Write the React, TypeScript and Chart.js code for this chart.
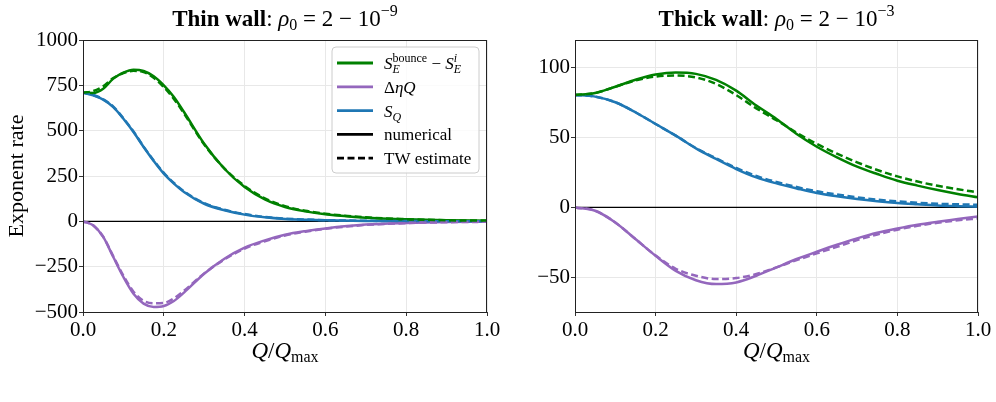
import React, { useEffect, useRef } from 'react';
import { Chart, registerables } from 'chart.js';

Chart.register(...registerables);

const SERIF = '"Liberation Serif", "DejaVu Serif", serif';
const GREEN = '#008000';
const PURPLE = '#9467bd';
const BLUE = '#1f77b4';

// ---- Thin wall panel (rho0 = 2 - 1e-9) ----
const thinQ = [0, 0.025, 0.05, 0.075, 0.1, 0.125, 0.15, 0.175, 0.2, 0.225, 0.25, 0.3, 0.35, 0.4, 0.45, 0.5, 0.55, 0.6, 0.7, 0.8, 0.9, 1.0];
const thinBounceNum = [709, 708, 731, 787, 820, 836, 829, 800, 750, 686, 603, 428, 290, 189, 121, 79, 55, 39, 20, 11, 5.5, 3.5];
const thinBounceTW = [709, 718, 745, 790, 818, 830, 823, 792, 740, 675, 595, 424, 292, 195, 127, 84, 58, 42, 22, 12, 6, 4];
const thinEtaNum = [0, -22, -86, -197, -307, -399, -454, -472, -467, -439, -393, -289, -206, -145, -105, -74, -54, -39, -18, -9, -4, -2];
const thinEtaTW = [0, -22, -85, -193, -300, -388, -438, -452, -450, -425, -383, -287, -210, -150, -110, -78, -57, -41, -20, -10, -5, -2.5];
const thinSQNum = [709, 695, 671, 630, 566, 493, 410, 333, 263, 208, 162, 97, 61, 37, 22, 13, 8.5, 5.5, 2.5, 1.2, 0.6, 0.3];
const thinSQTW = [709, 697, 673, 632, 568, 495, 412, 336, 267, 212, 166, 100, 64, 40, 24, 15, 10, 6.5, 3, 1.5, 0.8, 0.4];
const thinYTicks = [-500, -250, 0, 250, 500, 750, 1000];

// ---- Thick wall panel (rho0 = 2 - 1e-3) ----
const thickQ = [0, 0.05, 0.1, 0.15, 0.2, 0.25, 0.3, 0.35, 0.4, 0.45, 0.5, 0.55, 0.6, 0.65, 0.7, 0.75, 0.8, 0.85, 0.9, 0.95, 1.0];
const thickBounceNum = [80.6, 82, 86.5, 91.5, 95.2, 96.7, 95.7, 91.4, 83.7, 73.0, 63.4, 52.6, 43.5, 35.9, 29.2, 23.9, 19.1, 15.6, 12.4, 9.6, 7.2];
const thickBounceTW = [80.6, 82, 86.5, 91, 93.8, 94.5, 93.2, 88.5, 80.5, 71, 62.5, 53.5, 45.5, 38.5, 32.3, 26.8, 22.2, 18.5, 15.5, 13, 10.8];
const thickEtaNum = [0, -2.4, -10.8, -22.7, -34.7, -45.5, -52.2, -55, -53.8, -49, -43, -37, -31.8, -26.8, -22.2, -18.2, -15.1, -12.4, -10.3, -8.4, -6.5];
const thickEtaTW = [0, -2.4, -10.8, -22.7, -34.5, -44, -49, -51.4, -50.7, -47.8, -43, -37.8, -33, -28.3, -23.5, -19.4, -16, -13.2, -11, -9.3, -7.9];
const thickSQNum = [80.6, 79.4, 75.4, 68.2, 59.8, 51.4, 42.3, 34.7, 27.5, 21.5, 17.2, 13.6, 10.3, 8.0, 6.0, 4.4, 3.1, 2.2, 1.4, 0.9, 0.5];
const thickSQTW = [80.6, 79.4, 75.4, 68.2, 59.8, 51.4, 42.5, 35.2, 28.3, 22.5, 18.2, 14.6, 11.5, 9.2, 7.2, 5.6, 4.3, 3.3, 2.6, 2.2, 1.9];
const thickYTicks = [-50, 0, 50, 100];

const xTicks = [0, 0.2, 0.4, 0.6, 0.8, 1.0];

// ---- rich text helpers (italic math, sub/superscripts) ----
type Run = { t: string; w?: 'rm' | 'it' | 'bf'; s?: number; dy?: number };
type Piece = Run | { stack: Run[] };

function fontOf(r: Run, base: number) {
  const size = r.s ?? base;
  const style = r.w === 'it' ? 'italic ' : r.w === 'bf' ? 'bold ' : '';
  return `${style}${size}px ${SERIF}`;
}

function runWidth(ctx: CanvasRenderingContext2D, r: Run, base: number) {
  ctx.font = fontOf(r, base);
  return ctx.measureText(r.t).width;
}

function richWidth(ctx: CanvasRenderingContext2D, pieces: Piece[], base: number) {
  let w = 0;
  for (const p of pieces) {
    if ('stack' in p) w += Math.max(...p.stack.map((r) => runWidth(ctx, r, base)));
    else w += runWidth(ctx, p, base);
  }
  return w;
}

function drawRich(ctx: CanvasRenderingContext2D, pieces: Piece[], x: number, y: number, base: number, align: 'left' | 'center') {
  let cx = align === 'center' ? x - richWidth(ctx, pieces, base) / 2 : x;
  ctx.textAlign = 'left';
  ctx.textBaseline = 'alphabetic';
  ctx.fillStyle = '#000';
  const drawRun = (r: Run, px: number) => {
    ctx.font = fontOf(r, base);
    ctx.fillText(r.t, px, y + (r.dy ?? 0));
    return ctx.measureText(r.t).width;
  };
  for (const p of pieces) {
    if ('stack' in p) {
      let mw = 0;
      for (const r of p.stack) mw = Math.max(mw, drawRun(r, cx));
      cx += mw;
    } else {
      cx += drawRun(p, cx);
    }
  }
}

function titlePieces(kind: string, exp: string): Piece[] {
  return [
    { t: kind, w: 'bf' },
    { t: ': ', w: 'rm' },
    { t: 'ρ', w: 'it' },
    { t: '0', w: 'rm', s: 16, dy: 4 },
    { t: ' = 2 − 10', w: 'rm' },
    { t: exp, w: 'rm', s: 16, dy: -10 },
  ];
}

const xLabelPieces: Piece[] = [
  { t: 'Q', w: 'it' },
  { t: '/', w: 'rm' },
  { t: 'Q', w: 'it' },
  { t: 'max', w: 'rm', s: 16, dy: 4 },
];

const legendEntries: { color: string; dash: number[]; label: Piece[] }[] = [
  {
    color: GREEN,
    dash: [],
    label: [
      { t: 'S', w: 'it' },
      { stack: [{ t: 'bounce', w: 'rm', s: 12, dy: -7 }, { t: 'E', w: 'it', s: 12, dy: 4 }] },
      { t: ' − ', w: 'rm' },
      { t: 'S', w: 'it' },
      { stack: [{ t: 'i', w: 'it', s: 12, dy: -7 }, { t: 'E', w: 'it', s: 12, dy: 4 }] },
    ],
  },
  { color: PURPLE, dash: [], label: [{ t: 'Δ', w: 'rm' }, { t: 'ηQ', w: 'it' }] },
  { color: BLUE, dash: [], label: [{ t: 'S', w: 'it' }, { t: 'Q', w: 'it', s: 12, dy: 4 }] },
  { color: '#000', dash: [], label: [{ t: 'numerical', w: 'rm' }] },
  { color: '#000', dash: [7, 3.5], label: [{ t: 'TW estimate', w: 'rm' }] },
];

function fmtTick(v: number) {
  return v < 0 ? '−' + Math.abs(v) : String(v);
}

function makeDecor(title: Piece[], withYLabel: boolean, withLegend: boolean) {
  return {
    id: 'panelDecor',
    beforeDatasetsDraw(chart: any) {
      const { ctx, chartArea: a, scales } = chart;
      const y0 = scales.y.getPixelForValue(0);
      ctx.save();
      ctx.strokeStyle = '#000';
      ctx.lineWidth = 1.2;
      ctx.beginPath();
      ctx.moveTo(a.left, y0);
      ctx.lineTo(a.right, y0);
      ctx.stroke();
      ctx.restore();
    },
    afterDatasetsDraw(chart: any) {
      const { ctx, chartArea: a } = chart;
      ctx.save();
      ctx.strokeStyle = '#222';
      ctx.lineWidth = 1;
      ctx.strokeRect(a.left + 0.5, a.top + 0.5, a.right - a.left - 1, a.bottom - a.top);
      ctx.restore();
    },
    afterDraw(chart: any) {
      const { ctx, chartArea: a } = chart;
      const cx = (a.left + a.right) / 2;
      ctx.save();
      drawRich(ctx, title, cx, 26, 23, 'center');
      drawRich(ctx, xLabelPieces, cx, 358, 23, 'center');
      if (withYLabel) {
        ctx.save();
        ctx.translate(23, (a.top + a.bottom) / 2);
        ctx.rotate(-Math.PI / 2);
        drawRich(ctx, [{ t: 'Exponent rate', w: 'rm' }], 0, 0, 22, 'center');
        ctx.restore();
      }
      if (withLegend) {
        const bx = 332, by = 47, bw = 147, bh = 126, r = 4;
        ctx.beginPath();
        ctx.moveTo(bx + r, by);
        ctx.arcTo(bx + bw, by, bx + bw, by + bh, r);
        ctx.arcTo(bx + bw, by + bh, bx, by + bh, r);
        ctx.arcTo(bx, by + bh, bx, by, r);
        ctx.arcTo(bx, by, bx + bw, by, r);
        ctx.closePath();
        ctx.fillStyle = 'rgba(255,255,255,0.8)';
        ctx.fill();
        ctx.strokeStyle = '#cccccc';
        ctx.lineWidth = 1;
        ctx.stroke();
        legendEntries.forEach((e, i) => {
          const ry = 63 + i * 23.8;
          ctx.save();
          ctx.strokeStyle = e.color;
          ctx.lineWidth = 2.8;
          ctx.setLineDash(e.dash);
          ctx.beginPath();
          ctx.moveTo(337, ry);
          ctx.lineTo(373, ry);
          ctx.stroke();
          ctx.restore();
          drawRich(ctx, e.label, 384, ry + 6, 17, 'left');
        });
      }
      ctx.restore();
    },
  };
}

function buildConfig(opts: {
  q: number[];
  series: { vals: number[]; color: string; dashed: boolean }[];
  yMin: number;
  yMax: number;
  yTicks: number[];
  yAxisWidth: number;
  padRight: number;
  decor: any;
}) {
  const font = { family: SERIF, size: 21 };
  return {
    type: 'line' as const,
    data: {
      datasets: opts.series.map((s) => ({
        data: opts.q.map((x, i) => ({ x, y: s.vals[i] })),
        borderColor: s.color,
        borderWidth: 2.5,
        borderDash: s.dashed ? [7, 3.5] : [],
        borderCapStyle: 'butt',
        pointRadius: 0,
        fill: false,
        cubicInterpolationMode: 'monotone',
        order: s.dashed ? 0 : 1,
      })),
    },
    options: {
      responsive: false,
      animation: false,
      events: [],
      layout: { padding: { left: 0, top: 40, right: opts.padRight, bottom: 0 } },
      plugins: { legend: { display: false }, title: { display: false }, tooltip: { enabled: false } },
      scales: {
        x: {
          type: 'linear',
          min: 0,
          max: 1,
          afterBuildTicks: (axis: any) => {
            axis.ticks = xTicks.map((value) => ({ value }));
          },
          afterFit: (s: any) => {
            s.height = 90;
          },
          ticks: {
            font,
            color: '#000',
            padding: 2,
            maxRotation: 0,
            autoSkip: false,
            callback: (v: any) => Number(v).toFixed(1),
          },
          grid: { color: '#e8e8e8', lineWidth: 1, tickLength: 4, tickColor: '#333', drawTicks: true },
          border: { display: false },
        },
        y: {
          type: 'linear',
          min: opts.yMin,
          max: opts.yMax,
          afterBuildTicks: (axis: any) => {
            axis.ticks = opts.yTicks.map((value) => ({ value }));
          },
          afterFit: (s: any) => {
            s.width = opts.yAxisWidth;
          },
          ticks: {
            font,
            color: '#000',
            padding: 1,
            callback: (v: any) => fmtTick(Number(v)),
          },
          grid: { color: '#e8e8e8', lineWidth: 1, tickLength: 4, tickColor: '#333', drawTicks: true },
          border: { display: false },
        },
      },
    },
    plugins: [opts.decor],
  };
}

function Panel(props: { left: number; width: number; config: any }) {
  const ref = useRef<HTMLCanvasElement>(null);
  useEffect(() => {
    if (!ref.current) return;
    const chart = new Chart(ref.current, props.config);
    return () => chart.destroy();
  }, []);
  return (
    <canvas
      ref={ref}
      width={props.width}
      height={402}
      style={{ position: 'absolute', left: props.left, top: 0, width: props.width, height: 402 }}
    />
  );
}

export default function App() {
  const thinConfig = buildConfig({
    q: thinQ,
    series: [
      { vals: thinBounceNum, color: GREEN, dashed: false },
      { vals: thinEtaNum, color: PURPLE, dashed: false },
      { vals: thinSQNum, color: BLUE, dashed: false },
      { vals: thinBounceTW, color: GREEN, dashed: true },
      { vals: thinEtaTW, color: PURPLE, dashed: true },
      { vals: thinSQTW, color: BLUE, dashed: true },
    ],
    yMin: -500,
    yMax: 1000,
    yTicks: thinYTicks,
    yAxisWidth: 83,
    padRight: 540 - 487,
    decor: makeDecor(titlePieces('Thin wall', '−9'), true, true),
  });
  const thickConfig = buildConfig({
    q: thickQ,
    series: [
      { vals: thickBounceNum, color: GREEN, dashed: false },
      { vals: thickEtaNum, color: PURPLE, dashed: false },
      { vals: thickSQNum, color: BLUE, dashed: false },
      { vals: thickBounceTW, color: GREEN, dashed: true },
      { vals: thickEtaTW, color: PURPLE, dashed: true },
      { vals: thickSQTW, color: BLUE, dashed: true },
    ],
    yMin: -75,
    yMax: 120,
    yTicks: thickYTicks,
    yAxisWidth: 575 - 460,
    padRight: 996 - 978,
    decor: makeDecor(titlePieces('Thick wall', '−3'), false, false),
  });
  return (
    <div style={{ position: 'fixed', left: 0, top: 0, width: 996, height: 402, background: '#fff', overflow: 'hidden' }}>
      <Panel left={0} width={540} config={thinConfig} />
      <Panel left={460} width={536} config={thickConfig} />
    </div>
  );
}
